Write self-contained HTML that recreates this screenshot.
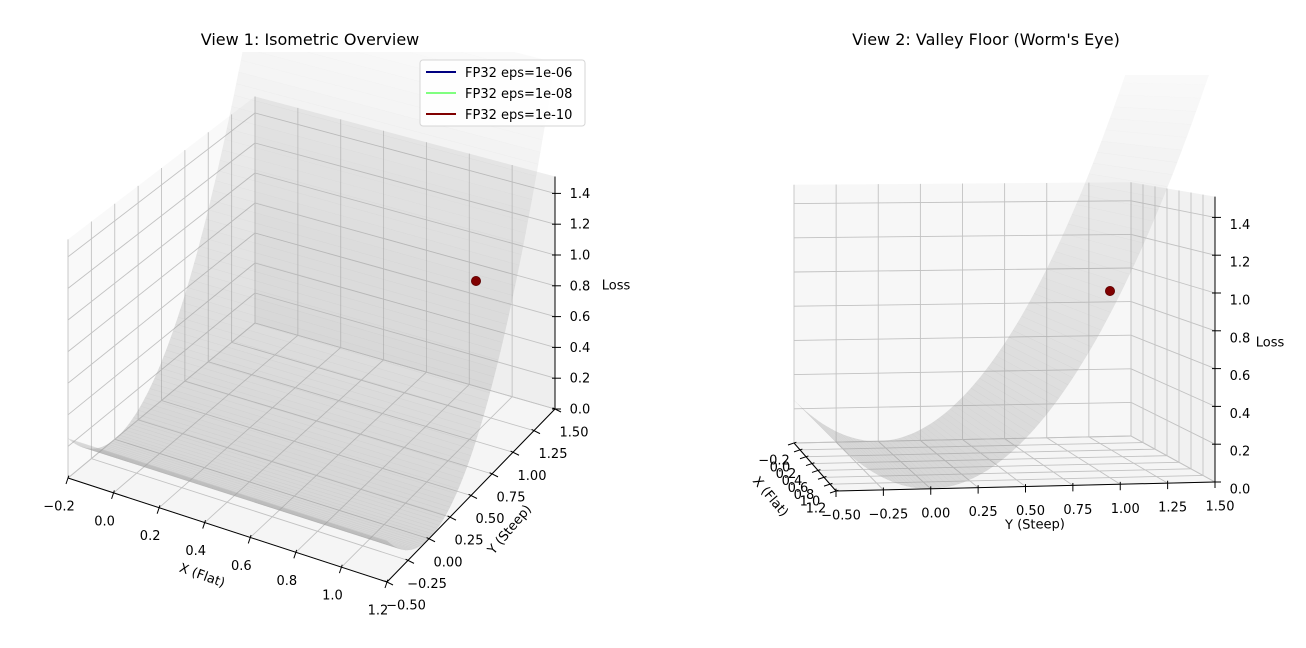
<!DOCTYPE html>
<html><head><meta charset="utf-8"><style>
html,body{margin:0;padding:0;background:#fff;}
svg{display:block;font-family:"DejaVu Sans","Liberation Sans",sans-serif;}
</style></head><body>
<svg id="s" width="1306" height="648" viewBox="0 0 1306 648" xmlns="http://www.w3.org/2000/svg">
<defs>
<clipPath id="c1"><rect x="0" y="52" width="653" height="600"/></clipPath>
<clipPath id="c2"><rect x="653" y="75" width="653" height="600"/></clipPath>
</defs>
<text x="310" y="45" font-size="16" text-anchor="middle">View 1: Isometric Overview</text>
<text x="986" y="45" font-size="16" text-anchor="middle">View 2: Valley Floor (Worm's Eye)</text>
<g id="v1"></g>
<g id="v2"></g>
<g>
<rect x="420" y="60" width="165" height="66" rx="3" fill="#fff" fill-opacity="0.85" stroke="#d6d6d6"/>
<line x1="426" y1="72" x2="456" y2="72" stroke="#000080" stroke-width="2"/>
<line x1="426" y1="93" x2="456" y2="93" stroke="#80ff80" stroke-width="2"/>
<line x1="426" y1="114" x2="456" y2="114" stroke="#800000" stroke-width="2"/>
<text x="465" y="77" font-size="13">FP32 eps=1e-06</text>
<text x="465" y="98" font-size="13">FP32 eps=1e-08</text>
<text x="465" y="119" font-size="13">FP32 eps=1e-10</text>
</g>
</svg>
<script>
var NS="http://www.w3.org/2000/svg";
function el(p,t,a,txt){var e=document.createElementNS(NS,t);for(var k in a)e.setAttribute(k,a[k]);if(txt!=null)e.textContent=txt;p.appendChild(e);return e;}
function mk(c,s){return function(x,y,z){var u=(x+0.2)/1.4,v=(y+0.5)/2;
 var px=c[0][0]*(1-u)*(1-v)+c[1][0]*u*(1-v)+c[2][0]*(1-u)*v+c[3][0]*u*v;
 var py=c[0][1]*(1-u)*(1-v)+c[1][1]*u*(1-v)+c[2][1]*(1-u)*v+c[3][1]*u*v;
 var sc=s[0]*(1-u)*(1-v)+s[1]*u*(1-v)+s[2]*(1-u)*v+s[3]*u*v;
 return [px,py-z*sc];};}
function f(y){return y*y;}
var XT=[-0.2,0,0.2,0.4,0.6,0.8,1.0,1.2],YT=[-0.5,-0.25,0,0.25,0.5,0.75,1,1.25,1.5],ZT=[0,0.2,0.4,0.6,0.8,1.0,1.2,1.4],ZM=1.51;
function poly(g,pts,a){a.points=pts.map(function(p){return p[0].toFixed(1)+","+p[1].toFixed(1)}).join(" ");return el(g,"polygon",a);}
function ln(g,a,b,col,w){return el(g,"line",{x1:a[0],y1:a[1],x2:b[0],y2:b[1],stroke:col,"stroke-width":w||1});}
function fmt(v,d){var s=v.toFixed(d);return s.replace("-","\u2212");}
function draw(g,P,o){
 poly(g,[P(-0.2,-0.5,0),P(1.2,-0.5,0),P(1.2,1.5,0),P(-0.2,1.5,0)],{fill:"#f5f5f5"});
 poly(g,[P(-0.2,-0.5,0),P(-0.2,1.5,0),P(-0.2,1.5,ZM),P(-0.2,-0.5,ZM)],{fill:o.xp});
 poly(g,[P(-0.2,1.5,0),P(1.2,1.5,0),P(1.2,1.5,ZM),P(-0.2,1.5,ZM)],{fill:o.yp});
 var gc="#c2c2c2";
 XT.forEach(function(x){ln(g,P(x,-0.5,0),P(x,1.5,0),gc,0.9);ln(g,P(x,1.5,0),P(x,1.5,ZM),gc,0.9);});
 YT.forEach(function(y){ln(g,P(-0.2,y,0),P(1.2,y,0),gc,0.9);ln(g,P(-0.2,y,0),P(-0.2,y,ZM),gc,0.9);});
 ZT.forEach(function(z){ln(g,P(-0.2,-0.5,z),P(-0.2,1.5,z),gc,0.9);ln(g,P(-0.2,1.5,z),P(1.2,1.5,z),gc,0.9);});
 var sg=el(g,"g",{"clip-path":o.clip});
 var N=80;
 for(var i=0;i<N;i++){var y0=-0.5+2*i/N,y1=-0.5+2*(i+1)/N,z0=f(y0),z1=f(y1);
  var zm=(z0+z1)/2,op=Math.max(0.04,0.34-0.13*zm);
  poly(sg,[P(-0.2,y0,z0),P(1.2,y0,z0),P(1.2,y1,z1),P(-0.2,y1,z1)],{fill:"#9c9c9c","fill-opacity":op.toFixed(3),stroke:"#9c9c9c","stroke-opacity":(op*0.3).toFixed(3),"stroke-width":0.4});}
 ln(g,P(-0.2,-0.5,0),P(1.2,-0.5,0),"#000",1);
 ln(g,o.yStart,P(1.2,1.5,0),"#000",1);
 ln(g,P(1.2,1.5,0),P(1.2,1.5,ZM),"#000",1);
 XT.forEach(function(x){var p=P(x,-0.5,0);ln(g,[p[0]+o.xtk[0],p[1]+o.xtk[1]],[p[0]-o.xtk[0]*0.4,p[1]-o.xtk[1]*0.4],"#000",1);
  el(g,"text",{x:p[0]+o.xl[0],y:p[1]+o.xl[1],"font-size":13,"text-anchor":"middle","dominant-baseline":"central"},fmt(x,1));});
 YT.forEach(function(y){var p=o.yAx(y);ln(g,[p[0]+o.ytk[0],p[1]+o.ytk[1]],[p[0]-o.ytk[0]*0.4,p[1]-o.ytk[1]*0.4],"#000",1);
  el(g,"text",{x:p[0]+o.yl[0],y:p[1]+o.yl[1],"font-size":13,"text-anchor":"middle","dominant-baseline":"central"},fmt(y,2));});
 ZT.forEach(function(z){var p=P(1.2,1.5,z);ln(g,[p[0]-3,p[1]],[p[0]+6,p[1]],"#000",1);
  el(g,"text",{x:p[0]+o.zl[0],y:p[1]+o.zl[1],"font-size":13,"text-anchor":"middle","dominant-baseline":"central"},fmt(z,1));});
 el(g,"circle",{cx:o.pt[0],cy:o.pt[1],r:4.6,fill:"#800000",stroke:"#5c0000","stroke-width":0.8});
 o.labels.forEach(function(L){el(g,"text",{x:L[1],y:L[2],"font-size":13,"text-anchor":"middle","dominant-baseline":"central",transform:"rotate("+L[3]+" "+L[1]+" "+L[2]+")"},L[0]);});
}
var P1=mk([[68,478],[387,582],[255,323],[555,409]],[158,165,150,154]);
draw(document.getElementById("v1"),P1,{xp:"#f9f9f9",yp:"#eeeeee",clip:"url(#c1)",
 yStart:P1(1.2,-0.5,0),yAx:function(y){return P1(1.2,y,0);},
 xtk:[-2,6],xl:[-9,29],ytk:[6,3],yl:[19,24],zl:[25,1],pt:[476,281],
 labels:[["X (Flat)",202,576,20],["Y (Steep)",510,530,-50],["Loss",616,286,0]]});
var P2=mk([[794,443],[836,491],[1131,436],[1215,482]],[171,195,168,189]);
draw(document.getElementById("v2"),P2,{xp:"#f7f7f7",yp:"#f1f1f1",clip:"url(#c2)",
 yStart:P2(1.2,-0.5,0),yAx:function(y){return P2(1.2,y,0);},
 xtk:[-6,2],xl:[-20,18],ytk:[0,6],yl:[5,25],zl:[25,8],pt:[1110,291],
 labels:[["X (Flat)",770,497,50],["Y (Steep)",1035,525,-1],["Loss",1270,343,0]]});
</script>
</body></html>
